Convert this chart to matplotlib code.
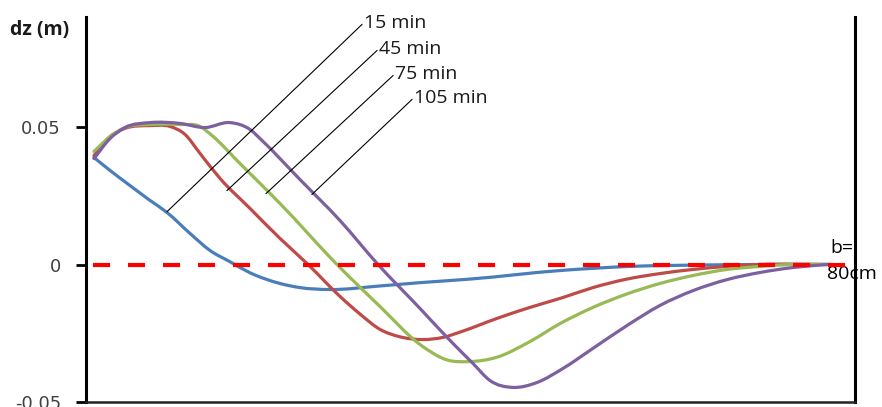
import matplotlib.pyplot as plt
import numpy as np
from matplotlib.path import Path
from matplotlib.patches import PathPatch

# bed change dz (m) along the flume width, x in cm (0..80)
x_15 = [0.83, 2.50, 4.58, 6.66, 8.43, 10.82, 12.90, 14.98, 17.06, 20.18, 22.26,
        25.38, 30.59, 34.75, 39.95, 49.31, 56.59, 63.87, 70.12, 77.40]
dz_15 = [0.0389, 0.0342, 0.0287, 0.0233, 0.0189, 0.0113, 0.0051, 0.0010, -0.0030,
         -0.0069, -0.0084, -0.0091, -0.0078, -0.0066, -0.0053, -0.0022, -0.0007,
         -0.0002, 0.0, 0.0]

x_45 = [0.83, 2.50, 4.06, 6.66, 8.74, 10.30, 11.86, 13.94, 17.06, 20.18, 23.10,
        26.42, 28.50, 30.59, 32.67, 35.06, 37.14, 39.22, 42.76, 46.19, 49.62,
        52.74, 56.28, 59.71, 63.15, 66.68, 70.12, 77.40]
dz_45 = [0.0396, 0.0465, 0.0495, 0.0505, 0.0502, 0.0473, 0.0404, 0.0313, 0.0204,
         0.0095, 0.0, -0.0116, -0.0180, -0.0236, -0.0263, -0.0273, -0.0265,
         -0.0242, -0.0196, -0.0156, -0.0120, -0.0084, -0.0053, -0.0033, -0.0018,
         -0.0007, 0.0, 0.0]

x_75 = [0.83, 2.50, 4.06, 6.66, 9.78, 11.86, 13.11, 16.02, 20.18, 26.11, 30.59,
        34.75, 37.56, 39.95, 42.76, 46.19, 49.31, 52.74, 56.28, 59.71, 63.15,
        66.68, 70.12, 73.24, 77.40]
dz_75 = [0.0411, 0.0465, 0.0498, 0.0509, 0.0509, 0.0502, 0.0469, 0.0367, 0.0222,
         0.0, -0.0153, -0.0291, -0.0347, -0.0353, -0.0337, -0.0280, -0.0215,
         -0.0156, -0.0107, -0.0069, -0.0040, -0.0018, -0.0007, 0.0, 0.0]

x_105 = [0.83, 2.50, 4.06, 6.66, 9.78, 12.38, 14.98, 17.06, 18.31, 22.26, 26.42,
         30.38, 34.75, 37.56, 40.26, 42.03, 44.42, 46.92, 49.62, 52.74, 56.28,
         59.71, 63.15, 66.68, 70.12, 73.55, 77.09]
dz_105 = [0.0385, 0.0458, 0.0498, 0.0516, 0.0513, 0.0498, 0.0516, 0.0491, 0.0451,
          0.0309, 0.0160, 0.0, -0.0160, -0.0265, -0.0360, -0.0422, -0.0447,
          -0.0429, -0.0378, -0.0305, -0.0222, -0.0149, -0.0095, -0.0055,
          -0.0029, -0.0011, 0.0]

x_zero = [0.75, 80.0]
dz_zero = [0.0, 0.0]

series = [
    ('15 min', x_15, dz_15, '#4a7ebb'),
    ('45 min', x_45, dz_45, '#be4b48'),
    ('75 min', x_75, dz_75, '#98b954'),
    ('105 min', x_105, dz_105, '#7d60a0'),
]

# leader lines: (point on curve, end next to label)
leaders = {
    '15 min': ((8.43, 0.0192), (28.71, 0.0873)),
    '45 min': ((14.67, 0.0269), (30.27, 0.0778)),
    '75 min': ((18.73, 0.0258), (31.94, 0.0687)),
    '105 min': ((23.51, 0.0255), (33.91, 0.0600)),
}


def smooth_path(xs, ys):
    # smoothed line: cubic bezier pieces through every point,
    # slopes taken from the neighbouring points (uneven spacing ok)
    x = np.asarray(xs, float)
    y = np.asarray(ys, float)
    h = np.diff(x)
    s = np.diff(y) / h
    m = np.empty_like(y)
    m[0], m[-1] = s[0], s[-1]
    m[1:-1] = (s[:-1] * h[1:] + s[1:] * h[:-1]) / (h[:-1] + h[1:])
    verts = [(x[0], y[0])]
    codes = [Path.MOVETO]
    for i in range(len(x) - 1):
        verts += [(x[i] + h[i] / 3, y[i] + m[i] * h[i] / 3),
                  (x[i + 1] - h[i] / 3, y[i + 1] - m[i + 1] * h[i] / 3),
                  (x[i + 1], y[i + 1])]
        codes += [Path.CURVE4] * 3
    return Path(verts, codes)


fig = plt.figure(figsize=(8.82, 4.07), dpi=100)
ax = fig.add_axes([86 / 882, 5 / 407, 769 / 882, 385 / 407])

for name, xs, ys, col in series:
    ax.add_patch(PathPatch(smooth_path(xs, ys), fill=False, edgecolor=col,
                           lw=2.3, joinstyle='round', capstyle='round'))

ax.plot(x_zero, dz_zero, color='#ff0000', lw=3, dashes=(4.1, 4.3), zorder=5)

for name, (p0, p1) in leaders.items():
    ax.plot([p0[0], p1[0]], [p0[1], p1[1]], color='black', lw=0.8, zorder=6)
    ax.text(p1[0] + 0.2, p1[1] + 0.0004, name, ha='left', va='center',
            fontsize=14, family='Open Sans', color='#1a1a1a')

ax.text(79.8, 0.0060, 'b=', ha='right', va='center', fontsize=14,
        family='Open Sans', color='black')
ax.text(77.1, -0.0033, '80cm', ha='left', va='center', fontsize=14,
        family='Open Sans', color='black', clip_on=False)

ax.set_xlim(0, 80)
ax.set_ylim(-0.05, 0.09)
ax.set_yticks([-0.05, 0, 0.05])
ax.set_yticklabels(['-0.05', '0', '0.05'])
ax.set_xticks([])
ax.tick_params(axis='y', direction='out', length=7, width=2, pad=11,
               labelsize=13, labelcolor='#404040')
for lbl in ax.get_yticklabels():
    lbl.set_family('DejaVu Sans')

ax.spines['top'].set_visible(False)
ax.spines['left'].set_linewidth(2.2)
ax.spines['right'].set_linewidth(2.2)
ax.spines['bottom'].set_linewidth(1.8)
ax.spines['bottom'].set_color('#222222')

fig.text(10 / 882, 1 - 30 / 407, 'dz (m)', ha='left', va='center', fontsize=14,
         fontweight='bold', family='Open Sans', color='#1a1a1a')

fig.savefig('out.png', dpi=100)
